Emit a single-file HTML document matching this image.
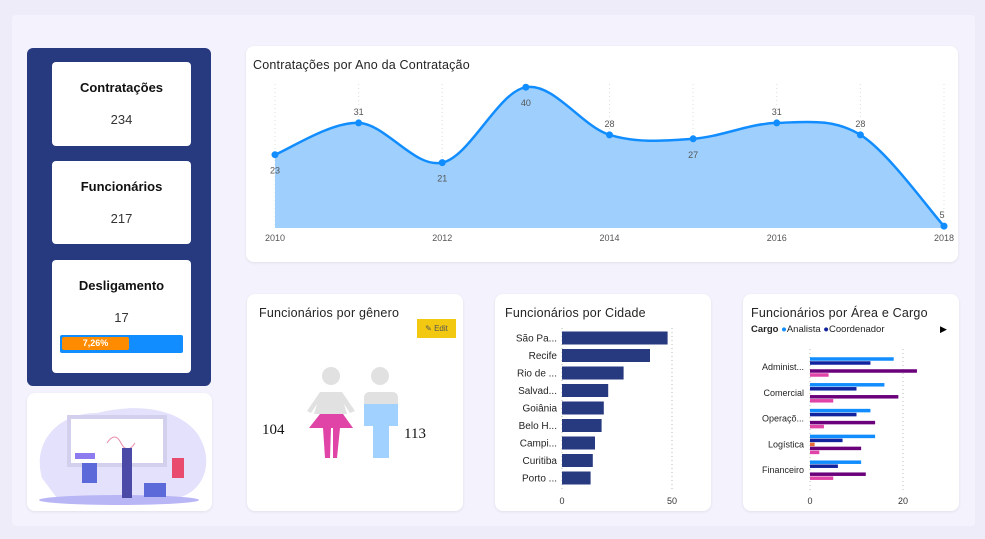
<!DOCTYPE html>
<html><head><meta charset="utf-8"><style>
*{box-sizing:border-box;margin:0;padding:0}
body{width:985px;height:539px;background:#efecf9;font-family:"Liberation Sans",sans-serif;position:relative;overflow:hidden}
.abs{position:absolute}
.card{position:absolute;background:#fff;border-radius:8px;box-shadow:0 1px 3px rgba(0,0,0,.08)}
.title{position:absolute;left:7px;top:12px;font-size:12.5px;color:#252423;letter-spacing:.2px}
.kpi{position:absolute;left:25px;width:139px;background:#fff;border-radius:4px;text-align:center}
.kpi b{display:block;font-size:13px;color:#111;margin-top:18px}
.kpi span{display:block;font-size:13px;color:#333;margin-top:17px}
</style></head><body>
<div class="abs" style="left:12px;top:15px;width:963px;height:511px;background:#f4f2fc;border-radius:4px"></div>

<div class="abs" style="left:27px;top:48px;width:184px;height:338px;background:#273a80;border-radius:6px">
 <div class="kpi" style="top:14px;height:84px"><b>Contratações</b><span>234</span></div>
 <div class="kpi" style="top:113px;height:83px"><b>Funcionários</b><span>217</span></div>
 <div class="kpi" style="top:212px;height:113px"><b>Desligamento</b><span>17</span>
  <div class="abs" style="left:8px;top:75px;width:123px;height:18px;background:#118dff;border-radius:2px">
   <div class="abs" style="left:2px;top:2px;width:67px;height:13px;background:#ff8c00;border-radius:2px;color:#fff;font-size:9px;font-weight:bold;line-height:13px;text-align:center">7,26%</div>
  </div>
 </div>
</div>

<div class="card" style="left:27px;top:393px;width:185px;height:118px">
 <svg width="185" height="118">
  <path d="M15,85 C5,50 30,20 70,20 C110,10 150,15 170,40 C190,70 175,100 150,105 L30,105 Z" fill="#e3e1fb"/>
  <rect x="40" y="22" width="100" height="52" fill="#d3d0ee"/><rect x="44" y="26" width="92" height="44" fill="#fff"/>
  <path d="M80,50 q8,-12 14,0 t14,0" stroke="#e98aa8" fill="none"/>
  <rect x="48" y="60" width="20" height="6" fill="#8c7cf0"/>
  <ellipse cx="92" cy="107" rx="80" ry="5" fill="#b9b6f5"/>
  <rect x="95" y="55" width="10" height="50" fill="#4b4aa6"/><rect x="55" y="70" width="15" height="20" fill="#5b6ad8"/>
  <rect x="145" y="65" width="12" height="20" fill="#e84b6e"/><rect x="117" y="90" width="22" height="14" fill="#5b6ad8"/>
 </svg>
</div>

<div class="card" style="left:246px;top:46px;width:712px;height:216px">
 <div class="title">Contratações por Ano da Contratação</div>
 <svg id="line" class="abs" style="left:0;top:0" width="712" height="216"></svg>
</div>

<div class="card" style="left:247px;top:294px;width:216px;height:217px">
 <div class="title" style="left:12px">Funcionários por gênero</div>
 <div class="abs" style="left:170px;top:25px;width:39px;height:19px;background:#f2c811;font-size:8px;color:#555;line-height:19px;text-align:center">✎ Edit</div>
 <svg class="abs" style="left:0;top:0" width="216" height="217">
  <circle cx="84" cy="82" r="9" fill="#e1e1e1"/>
  <path d="M73,98 L95,98 L108,117 L103,119 L97,110 L100,120 L67,120 L70,110 L64,119 L60,117 Z" fill="#e1e1e1"/>
  <path d="M73,120 L96,120 L106,134 L62,134 Z" fill="#e044a7"/>
  <path d="M76,134 L84,134 L83,164 L78,164 Z M86,134 L93,134 L90,164 L86,164 Z" fill="#e044a7"/>
  <circle cx="133" cy="82" r="9" fill="#e1e1e1"/>
  <path d="M117,110 L117,104 Q117,98 123,98 L145,98 Q151,98 151,104 L151,110 Z" fill="#e1e1e1"/>
  <path d="M117,110 L151,110 L151,132 L142,132 L142,164 L126,164 L126,132 L117,132 Z" fill="#a0d1ff"/>
  <text x="15" y="140" font-family="Liberation Serif" font-size="15" fill="#111">104</text>
  <text x="157" y="144" font-family="Liberation Serif" font-size="15" fill="#111">113</text>
 </svg>
</div>

<div class="card" style="left:495px;top:294px;width:216px;height:217px">
 <div class="title" style="left:10px">Funcionários por Cidade</div>
 <svg id="city" class="abs" style="left:0;top:0" width="216" height="217"></svg>
</div>

<div class="card" style="left:743px;top:294px;width:216px;height:217px">
 <div class="title" style="left:8px">Funcionários por Área e Cargo</div>
 <div class="abs" style="left:8px;top:30px;font-size:9.5px;color:#252423;white-space:nowrap">
  <b>Cargo</b> <span style="color:#118dff">●</span>Analista <span style="color:#12239e">●</span>Coordenador</div>
 <div class="abs" style="left:197px;top:30px;font-size:9px">▶</div>
 <svg id="area" class="abs" style="left:0;top:0" width="216" height="217"></svg>
</div>

<script>
const years=[2010,2011,2012,2013,2014,2015,2016,2017,2018];
const hires=[23,31,21,40,28,27,31,28,5];
const yearTicks=[2010,2012,2014,2016,2018];
const cities=["São Pa...","Recife","Rio de ...","Salvad...","Goiânia","Belo H...","Campi...","Curitiba","Porto ..."];
const cityCounts=[48,40,28,21,19,18,15,14,13];
const cityTicks=[0,50];
const areas=["Administ...","Comercial","Operaçõ...","Logística","Financeiro"];
const analista=[18,16,13,14,11];
const coordenador=[13,10,10,7,6];
const gerente=[0,0,0,1,0];
const supervisor=[23,19,14,11,12];
const assistente=[4,5,3,2,5];
const areaTicks=[0,20];
const NS="http://www.w3.org/2000/svg";
function mk(p,t,a){const e=document.createElementNS(NS,t);for(const k in a)e.setAttribute(k,a[k]);p.appendChild(e);return e;}

// line chart
(function(){
 const s=document.getElementById('line');
 const x=v=>29+(v-2010)*(669/8), y=v=>200-(v-0)*3.97;
 const base=182;
 years.forEach(yr=>{const l=mk(s,'line',{x1:x(yr),x2:x(yr),y1:38,y2:base,stroke:'#ddd','stroke-dasharray':'1,3'});});
 const P=years.map((yr,i)=>[x(yr),y(hires[i])]);
 let d='M'+P[0][0]+','+P[0][1];
 for(let i=0;i<P.length-1;i++){const p0=P[Math.max(0,i-1)],p1=P[i],p2=P[i+1],p3=P[Math.min(P.length-1,i+2)];
  d+=` C${p1[0]+(p2[0]-p0[0])/6},${p1[1]+(p2[1]-p0[1])/6} ${p2[0]-(p3[0]-p1[0])/6},${p2[1]-(p3[1]-p1[1])/6} ${p2[0]},${p2[1]}`;}
 const a=mk(s,'path',{d:d+` L${P[P.length-1][0]},${base} L${P[0][0]},${base} Z`,fill:'#9fd0fd'});
 
 const l=mk(s,'path',{d:d,fill:'none',stroke:'#118dff','stroke-width':2.5});
 
 const below=[true,false,true,true,false,true,false,false,false];
 P.forEach((p,i)=>{const c=mk(s,'circle',{cx:p[0],cy:p[1],r:3.5,fill:'#118dff'});
  
  const t=mk(s,'text',{x:p[0]+(i==8?-2:0),y:below[i]?p[1]+19:p[1]-8,'font-size':9,fill:'#555','text-anchor':'middle'});t.textContent=hires[i];
  });
 yearTicks.forEach(yr=>{const t=mk(s,'text',{x:x(yr),y:195,'font-size':9,fill:'#555','text-anchor':'middle'});t.textContent=yr;
  });
})();

// city chart
(function(){
 const s=document.getElementById('city');
 const x=v=>67+v*2.2, y=i=>44+i*17.5;
 cityTicks.forEach(v=>{const l=mk(s,'line',{x1:x(v),x2:x(v),y1:34,y2:198,stroke:'#bbb','stroke-dasharray':'1,3'});
  const t=mk(s,'text',{x:x(v),y:210,'font-size':9,fill:'#333','text-anchor':'middle'});t.textContent=v;});
 cities.forEach((c,i)=>{const r=mk(s,'rect',{x:x(0),y:y(i)-6.5,width:x(cityCounts[i])-x(0),height:13,fill:'#273a80'});
  
  const t=mk(s,'text',{x:62,y:y(i)+3.5,'font-size':10,fill:'#252423','text-anchor':'end'});t.textContent=c;
  });
})();

// area chart
(function(){
 const s=document.getElementById('area');
 const x=v=>67+v*4.65, g=i=>65+i*25.8;
 const series=[analista,coordenador,gerente,supervisor,assistente];
 const colors=['#118dff','#12239e','#e66c37','#6b007b','#e044a7'];
 areaTicks.forEach(v=>{const l=mk(s,'line',{x1:x(v),x2:x(v),y1:55,y2:198,stroke:'#bbb','stroke-dasharray':'1,3'});
  const t=mk(s,'text',{x:x(v),y:210,'font-size':9,fill:'#333','text-anchor':'middle'});t.textContent=v;});
 areas.forEach((a,i)=>{
  series.forEach((ser,k)=>{if(!ser[i])return;const r=mk(s,'rect',{x:x(0),y:g(i)+k*4-1.75,width:x(ser[i])-x(0),height:3.5,fill:colors[k]});
   });
  const t=mk(s,'text',{x:61,y:g(i)+11,'font-size':9,fill:'#252423','text-anchor':'end'});t.textContent=a;
  });
})();
</script>
</body></html>
